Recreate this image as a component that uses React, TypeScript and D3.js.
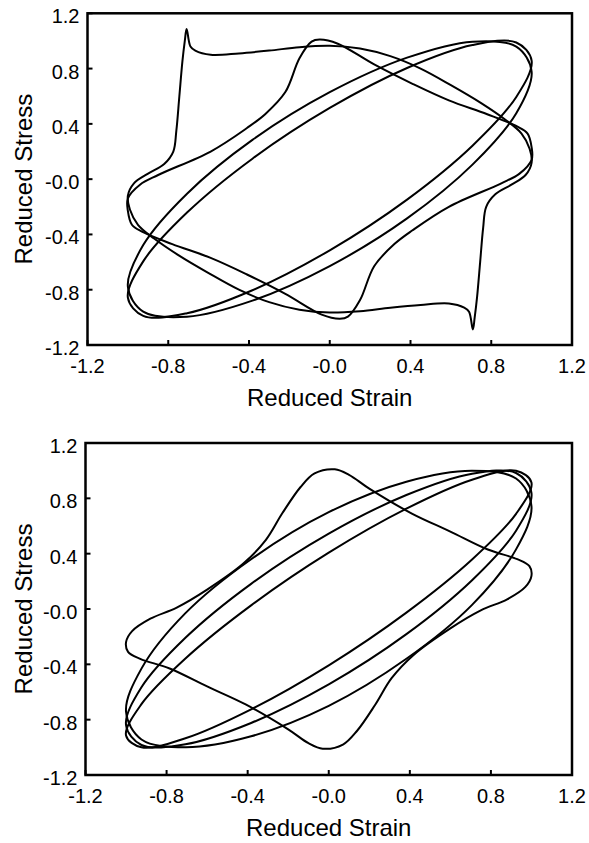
import React from "react";
import * as d3 from "d3";

type P = [number, number];

const tickValues = [-1.2, -0.8, -0.4, 0, 0.4, 0.8, 1.2];
const tickLabels = ["-1.2", "-0.8", "-0.4", "-0.0", "0.4", "0.8", "1.2"];
const xTitle = "Reduced Strain";
const yTitle = "Reduced Stress";

// ---------- top panel loops ----------
const topOvershoot: P[] = [
  [-0.709, 1.087], [-0.69, 0.96], [-0.666, 0.93], [-0.59, 0.9], [-0.45, 0.91], [-0.3, 0.93],
  [-0.15, 0.955], [0, 0.965], [0.15, 0.945], [0.3, 0.89], [0.45, 0.8], [0.6, 0.68], [0.75, 0.55],
  [0.87, 0.43], [0.95, 0.33], [0.99, 0.22], [1.0, 0.12], [0.97, 0.03], [0.9, -0.04], [0.82, -0.11],
  [0.775, -0.2], [0.76, -0.35], [0.745, -0.6], [0.73, -0.85], [0.718, -1.0],
  [0.709, -1.087], [0.69, -0.96], [0.666, -0.93], [0.59, -0.9], [0.45, -0.91], [0.3, -0.93],
  [0.15, -0.955], [0, -0.965], [-0.15, -0.945], [-0.3, -0.89], [-0.45, -0.8], [-0.6, -0.68], [-0.75, -0.55],
  [-0.87, -0.43], [-0.95, -0.33], [-0.99, -0.22], [-1.0, -0.12], [-0.97, -0.03], [-0.9, 0.04], [-0.82, 0.11],
  [-0.775, 0.2], [-0.76, 0.35], [-0.745, 0.6], [-0.73, 0.85], [-0.718, 1.0],
];
const topDiamond: P[] = [
  [-0.05, 1.01], [0.04, 0.98], [0.22, 0.83], [0.41, 0.69], [0.59, 0.57], [0.78, 0.47], [0.93, 0.38],
  [0.98, 0.33], [1.0, 0.23], [1.0, 0.14], [0.94, 0.04], [0.85, -0.03], [0.59, -0.2], [0.41, -0.37],
  [0.32, -0.47], [0.22, -0.63], [0.15, -0.875], [0.09, -0.995],
  [0.05, -1.01], [-0.04, -0.98], [-0.22, -0.83], [-0.41, -0.69], [-0.59, -0.57], [-0.78, -0.47], [-0.93, -0.38],
  [-0.98, -0.33], [-1.0, -0.23], [-1.0, -0.14], [-0.94, -0.04], [-0.85, 0.03], [-0.59, 0.2], [-0.41, 0.37],
  [-0.32, 0.47], [-0.22, 0.63], [-0.15, 0.875], [-0.09, 0.995],
];
const topEllipseWide: P[] = [
  [0, 0.629], [0.383, 0.879], [0.707, 0.995], [0.924, 0.959], [1, 0.777], [0.924, 0.477], [0.707, 0.105], [0.383, -0.284],
  [0, -0.629], [-0.383, -0.879], [-0.707, -0.995], [-0.924, -0.959], [-1, -0.777], [-0.924, -0.477], [-0.707, -0.105], [-0.383, 0.284],
];
const topEllipseNarrow: P[] = [
  [0, 0.515], [0.383, 0.804], [0.707, 0.97], [0.924, 0.989], [1, 0.857], [0.924, 0.595], [0.707, 0.242], [0.383, -0.148],
  [0, -0.515], [-0.383, -0.804], [-0.707, -0.97], [-0.924, -0.989], [-1, -0.857], [-0.924, -0.595], [-0.707, -0.242], [-0.383, 0.148],
];

// ---------- bottom panel loops ----------
const bottomDiamond: P[] = [
  [0.03, 1.01], [0.1, 0.97], [0.2, 0.87], [0.41, 0.69], [0.6, 0.56], [0.785, 0.43], [0.93, 0.36], [0.99, 0.31],
  [1.0, 0.24], [0.97, 0.16], [0.88, 0.07], [0.75, -0.01], [0.6, -0.14], [0.42, -0.33], [0.31, -0.5], [0.23, -0.69],
  [0.14, -0.88], [0.07, -0.98],
  [-0.03, -1.01], [-0.1, -0.97], [-0.2, -0.87], [-0.41, -0.69], [-0.6, -0.56], [-0.785, -0.43], [-0.93, -0.36], [-0.99, -0.31],
  [-1.0, -0.24], [-0.97, -0.16], [-0.88, -0.07], [-0.75, 0.01], [-0.6, 0.14], [-0.42, 0.33], [-0.31, 0.5], [-0.23, 0.69],
  [-0.14, 0.88], [-0.07, 0.98],
];
const bottomEllipseA: P[] = [
  [0, 0.7], [0.383, 0.92], [0.707, 0.999], [0.924, 0.943], [1, 0.743], [0.924, 0.431], [0.707, 0.03], [0.383, -0.36],
  [0, -0.7], [-0.383, -0.92], [-0.707, -0.999], [-0.924, -0.943], [-1, -0.743], [-0.924, -0.431], [-0.707, -0.03], [-0.383, 0.36],
];
const bottomEllipseB: P[] = [
  [0, 0.545], [0.383, 0.824], [0.707, 0.978], [0.924, 0.983], [1, 0.839], [0.924, 0.566], [0.707, 0.208], [0.383, -0.182],
  [0, -0.545], [-0.383, -0.824], [-0.707, -0.978], [-0.924, -0.983], [-1, -0.839], [-0.924, -0.566], [-0.707, -0.208], [-0.383, 0.182],
];
const bottomEllipseC: P[] = [
  [0, 0.407], [0.383, 0.725], [0.707, 0.934], [0.924, 1.0], [1, 0.914], [0.924, 0.688], [0.707, 0.358], [0.383, -0.026],
  [0, -0.407], [-0.383, -0.725], [-0.707, -0.934], [-0.924, -1.0], [-1, -0.914], [-0.924, -0.688], [-0.707, -0.358], [-0.383, 0.026],
];

const topLoops = [topOvershoot, topDiamond, topEllipseWide, topEllipseNarrow];
const bottomLoops = [bottomDiamond, bottomEllipseA, bottomEllipseB, bottomEllipseC];

const FONT = "'Liberation Sans', Arial, Helvetica, sans-serif";

function Panel({ left, right, top, bottom, loops }: { left: number; right: number; top: number; bottom: number; loops: P[][] }) {
  const xs = d3.scaleLinear().domain([-1.2, 1.2]).range([left, right]);
  const ys = d3.scaleLinear().domain([-1.2, 1.2]).range([bottom, top]);
  const line = d3
    .line<P>()
    .x((d) => xs(d[0]))
    .y((d) => ys(d[1]))
    .curve(d3.curveCatmullRomClosed.alpha(0.5));
  const cy = (top + bottom) / 2;
  const cx = (left + right) / 2;
  return (
    <g>
      {loops.map((l, i) => (
        <path key={i} d={line(l) || ""} fill="none" stroke="#000" strokeWidth={2} strokeLinejoin="round" />
      ))}
      <rect x={left} y={top} width={right - left} height={bottom - top} fill="none" stroke="#000" strokeWidth={2.5} />
      {tickValues.map((v, i) => (
        <g key={"x" + i}>
          <line x1={xs(v)} x2={xs(v)} y1={bottom} y2={bottom - 5} stroke="#000" strokeWidth={2} />
          <text x={xs(v)} y={bottom + 28} textAnchor="middle" fontFamily={FONT} fontSize={20} fill="#000">
            {tickLabels[i]}
          </text>
        </g>
      ))}
      {tickValues.map((v, i) => (
        <g key={"y" + i}>
          <line x1={left} x2={left + 5} y1={ys(v)} y2={ys(v)} stroke="#000" strokeWidth={2} />
          <text x={left - 8} y={ys(v) + 10} textAnchor="end" fontFamily={FONT} fontSize={20} fill="#000">
            {tickLabels[i]}
          </text>
        </g>
      ))}
      <text x={cx} y={bottom + 61} textAnchor="middle" fontFamily={FONT} fontSize={24} fill="#000">
        {xTitle}
      </text>
      <text
        transform={`translate(32,${cy}) rotate(-90)`}
        textAnchor="middle"
        fontFamily={FONT}
        fontSize={24}
        fill="#000"
      >
        {yTitle}
      </text>
    </g>
  );
}

export default function App() {
  return (
    <svg
      width={589}
      height={843}
      style={{ position: "absolute", left: 0, top: 0, background: "#fff" }}
    >
      <rect width={589} height={843} fill="#fff" />
      <Panel left={87.5} right={572} top={13.3} bottom={345} loops={topLoops} />
      <Panel left={85.5} right={572} top={443} bottom={775} loops={bottomLoops} />
    </svg>
  );
}
